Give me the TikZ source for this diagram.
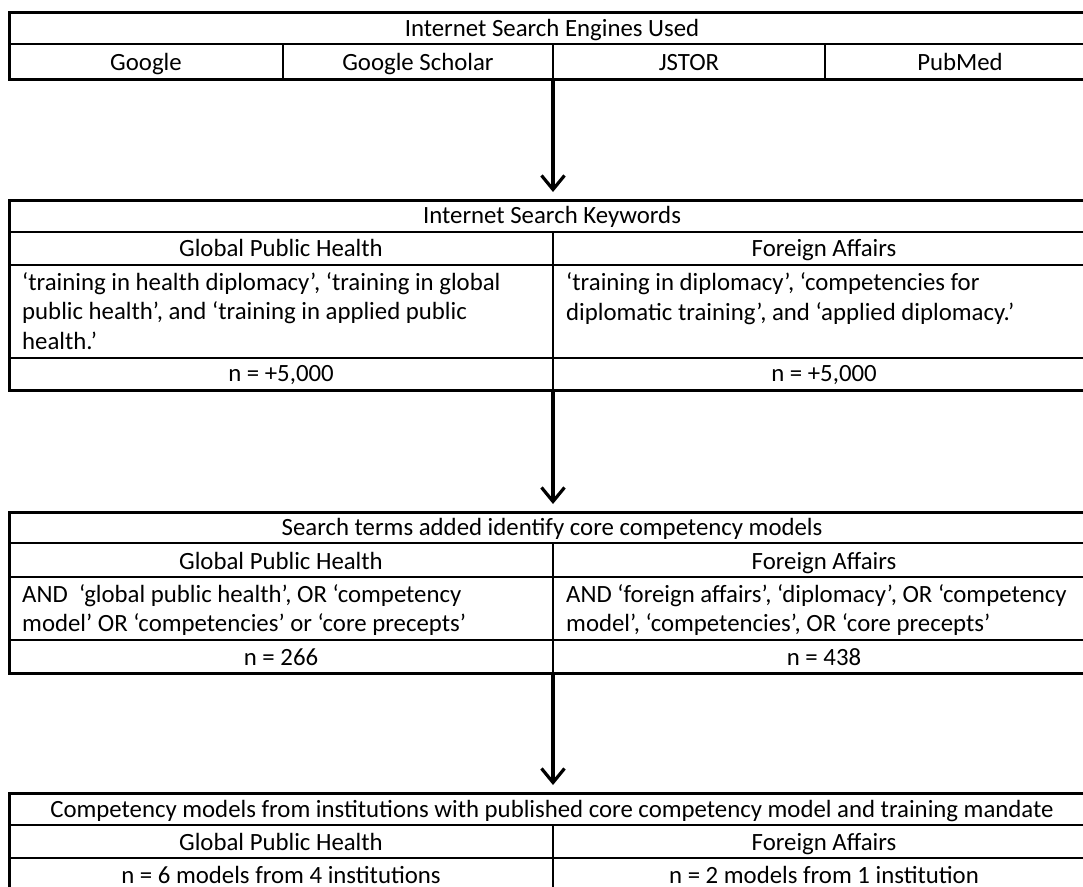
\documentclass[tikz,border=0pt]{standalone}
\usepackage{fontspec}
\setmainfont{Carlito}
\usetikzlibrary{arrows.meta}

\tikzset{
  frame/.style={line width=3pt},
  rule/.style={line width=2.2pt},
  hair/.style={line width=1.3pt},
  flow/.style={line width=3.2pt,shorten >=8pt,-{Straight Barb[length=14pt,width=23pt,line width=3.2pt]}},
  cell/.style={inner sep=0pt,anchor=base,font=\fontsize{24.8}{29.5}\selectfont},
  para/.style={cell,anchor=base west,align=left},
}

\begin{document}
\begin{tikzpicture}[x=1pt,y=-1pt]
\useasboundingbox (0,0) rectangle (1083,886);
\clip (0,0) rectangle (1083,886);

% engines table
\draw[frame] (9,12) rectangle (1095,79);
\draw[hair] (9,44) -- (1095,44);
\draw[hair] (283,44) -- (283,79);
\draw[hair] (553,44) -- (553,79);
\draw[hair] (825,44) -- (825,79);
\node[cell] (engTitle) at (552,36) {Internet Search Engines Used};
\node[cell] (google) at (146,70) {Google};
\node[cell] (scholar) at (418,70) {Google Scholar};
\node[cell] (jstor) at (689,70) {JSTOR};
\node[cell] (pubmed) at (960,70) {PubMed};
\coordinate (engBot) at (553,79);

% keywords table
\draw[frame] (9,200) rectangle (1095,390);
\draw[hair] (9,232) -- (1095,232);
\draw[rule] (9,265) -- (1095,265);
\draw[rule] (9,358) -- (1095,358);
\draw[hair] (553,232) -- (553,390);
\node[cell] (kwTitle) at (552,223.5) {Internet Search Keywords};
\node[cell] (kwGph) at (281,256.5) {Global Public Health};
\node[cell] (kwFa) at (824,256.5) {Foreign Affairs};
\node[para] (kwGphText) at (22,349) {‘training in health diplomacy’, ‘training in global\\public health’, and ‘training in applied public\\health.’};
\node[para] (kwFaText) at (566,320) {‘training in diplomacy’, ‘competencies for\\diplomatic training’, and ‘applied diplomacy.’};
\node[cell] (kwGphN) at (281,381.5) {n = +5,000};
\node[cell] (kwFaN) at (824,381.5) {n = +5,000};
\coordinate (kwTop) at (553,200);
\coordinate (kwBot) at (553,390);

% added terms table
\draw[frame] (9,512) rectangle (1095,673);
\draw[hair] (9,543) -- (1095,543);
\draw[rule] (9,577) -- (1095,577);
\draw[rule] (9,640) -- (1095,640);
\draw[hair] (553,543) -- (553,673);
\node[cell] (termTitle) at (552,535) {Search terms added identify core competency models};
\node[cell] (termGph) at (281,569) {Global Public Health};
\node[cell] (termFa) at (824,569) {Foreign Affairs};
\node[para] (termGphText) at (22,631.5) {AND\ \ ‘global public health’, OR ‘competency\\model’ OR ‘competencies’ or ‘core precepts’};
\node[para] (termFaText) at (566,631.5) {AND ‘foreign affairs’, ‘diplomacy’, OR ‘competency\\model’, ‘competencies’, OR ‘core precepts’};
\node[cell] (termGphN) at (281,665) {n = 266};
\node[cell] (termFaN) at (824,665) {n = 438};
\coordinate (termTop) at (553,512);
\coordinate (termBot) at (553,673);

% models table
\draw[frame] (9,793) rectangle (1095,905);
\draw[hair] (9,825) -- (1095,825);
\draw[rule] (9,858) -- (1095,858);
\draw[hair] (553,825) -- (553,905);
\node[cell] (modTitle) at (552,817) {Competency models from institutions with published core competency model and training mandate};
\node[cell] (modGph) at (281,850) {Global Public Health};
\node[cell] (modFa) at (824,850) {Foreign Affairs};
\node[cell] (modGphN) at (281,883) {n = 6 models from 4 institutions};
\node[cell] (modFaN) at (824,883) {n = 2 models from 1 institution};
\coordinate (modTop) at (553,793);

% flow
\draw[flow] (engBot) -- (kwTop);
\draw[flow] (kwBot) -- (termTop);
\draw[flow] (termBot) -- (modTop);
\end{tikzpicture}
\end{document}
